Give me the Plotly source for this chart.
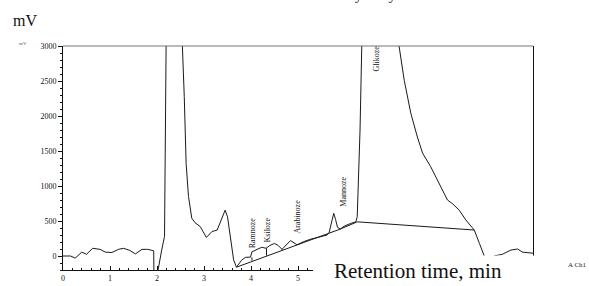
import plotly.graph_objects as go

# Chromatogram trace (retention time, min ; signal, mV)
time_min = [0, 0.16, 0.26, 0.40, 0.50, 0.63, 0.79, 0.90, 1.04, 1.18, 1.29, 1.42, 1.54, 1.68, 1.80, 1.89,
            1.93, 1.935, 1.995, 2.10, 2.16, 2.20, 2.35, 2.50, 2.54, 2.58, 2.62, 2.67, 2.74, 2.81, 2.92,
            3.05, 3.17, 3.28, 3.36, 3.45, 3.50, 3.58, 3.63, 3.69, 3.80, 3.88, 3.99, 4.02, 4.13, 4.23,
            4.32, 4.40, 4.50, 4.58, 4.66, 4.75, 4.84, 4.98, 5.12, 5.27, 5.44, 5.52, 5.62, 5.66, 5.72,
            5.76, 5.80, 5.84, 5.90, 5.98, 6.12, 6.23, 6.26, 6.30, 6.32, 6.36, 6.45, 6.80, 7.10, 7.15,
            7.26, 7.40, 7.54, 7.65, 7.82, 8.00, 8.18, 8.29, 8.43, 8.57, 8.75, 8.86, 8.96, 9.05, 9.17,
            9.35, 9.53, 9.67, 9.78, 9.96, 10.0]
signal_mv = [0, 0, -30, 55, 25, 110, 95, 55, 50, 95, 110, 80, 30, 95, 95, 85,
             75, -300, -300, 85, 280, 3500, 6000, 4500, 3000, 2280, 1320, 850, 540, 475, 420,
             265, 350, 370, 515, 655, 560, 135, -55, -160, -60, -20, -15, 60, 100, 125,
             110, 150, 180, 150, 95, 165, 220, 160, 205, 240, 265, 278, 300, 330, 480,
             610, 520, 410, 385, 425, 465, 488, 560, 1280, 1800, 3100, 6000, 8000, 3700, 3000,
             2510, 2040, 1700, 1470, 1280, 1040, 800, 745, 655, 515, 371, 180, 10, -150, 0,
             25, 85, 100, 55, 45, 40]

# Integration baseline
base_t = [3.69, 5.66, 5.90, 6.26, 8.75]
base_mv = [-160, 324, 385, 488, 371]

# Drop lines (peak separations): x, top, bottom
drop_t = [4.02, 4.33, 4.66]
drop_top = [-20, 110, 95]
drop_bot = [-67, 5, 80]

# Peak labels
peak_names = ["Ramnoze", "Ksiloze", "Arabinoze", "Mannoze", "Glikoze"]
peak_t = [4.05, 4.35, 4.97, 5.95, 6.65]
peak_y = [329, 371, 557, 914, 2814]

x_ticks = [0, 1, 2, 3, 4, 5]
y_ticks = [0, 500, 1000, 1500, 2000, 2500, 3000]

fig = go.Figure()
fig.add_trace(go.Scatter(x=time_min, y=signal_mv, mode="lines",
                         line=dict(color="#1a1a1a", width=1), showlegend=False, hoverinfo="skip"))
fig.add_trace(go.Scatter(x=base_t, y=base_mv, mode="lines",
                         line=dict(color="#1a1a1a", width=1), showlegend=False, hoverinfo="skip"))
dx, dy = [], []
for t, a, b in zip(drop_t, drop_top, drop_bot):
    dx += [t, t, None]
    dy += [a, b, None]
fig.add_trace(go.Scatter(x=dx, y=dy, mode="lines",
                         line=dict(color="#1a1a1a", width=1), showlegend=False, hoverinfo="skip"))

serif = "Liberation Serif, Times New Roman, serif"
annotations = []
for n, t, y in zip(peak_names, peak_t, peak_y):
    annotations.append(dict(x=t, y=y, xref="x", yref="y", text=n, showarrow=False,
                            textangle=-90, font=dict(family=serif, size=8, color="#111")))

annotations += [
    dict(x=-0.081, y=1.116, xref="paper", yref="paper", text="mV", showarrow=False,
         xanchor="center", yanchor="middle", font=dict(family=serif, size=16, color="#111")),
    dict(x=-0.085, y=1.013, xref="paper", yref="paper", text="mV", showarrow=False,
         xanchor="center", yanchor="middle", font=dict(family=serif, size=5, color="#555")),
    dict(x=0.572, y=-0.067, xref="paper", yref="paper", text="Retention time, min", showarrow=False,
         xanchor="left", yanchor="bottom", font=dict(family=serif, size=21, color="#111")),
    dict(x=1.119, y=0.022, xref="paper", yref="paper", text="A Ch1", showarrow=False,
         xanchor="right", yanchor="middle", font=dict(family=serif, size=7, color="#222")),
    dict(x=-0.017, y=1.183, xref="paper", yref="paper",
         text="Monosaccharide content of wheat straw acid hydrolysate", showarrow=False,
         xanchor="left", yanchor="bottom", font=dict(family=serif, size=16, color="#333")),
]

shapes = [
    # top border
    dict(type="line", xref="paper", yref="paper", x0=0, x1=1, y0=1, y1=1,
         line=dict(color="#777", width=1.2)),
    # white box covering lower right
    dict(type="rect", xref="paper", yref="paper", x0=0.532, x1=1.2, y0=-0.3, y1=0.065,
         fillcolor="white", line=dict(width=0), layer="above"),
]

fig.update_layout(
    width=589, height=286,
    margin=dict(l=63, r=56, t=46, b=16, autoexpand=False),
    paper_bgcolor="white", plot_bgcolor="white",
    annotations=annotations, shapes=shapes,
    xaxis=dict(range=[0, 10], showgrid=False, zeroline=False, showline=True,
               linecolor="#111", linewidth=1, mirror=False,
               tickvals=x_ticks, ticktext=[str(v) for v in x_ticks],
               ticks="inside", ticklen=4, tickcolor="#111",
               minor=dict(dtick=0.2, ticks="inside", ticklen=2, tickcolor="#111"),
               tickfont=dict(family=serif, size=8, color="#111")),
    yaxis=dict(range=[-200, 3000], showgrid=False, zeroline=False, showline=True,
               linecolor="#111", linewidth=1, mirror=True,
               tickvals=y_ticks, ticktext=[str(v) for v in y_ticks],
               ticks="outside", ticklen=4, tickcolor="#111",
               minor=dict(dtick=100, ticks="outside", ticklen=2, tickcolor="#111"),
               tickfont=dict(family=serif, size=8, color="#111")),
)

fig.write_html("out.html", config={"displayModeBar": False},
               post_script="document.body.style.margin='0';document.body.style.overflow='hidden';")
